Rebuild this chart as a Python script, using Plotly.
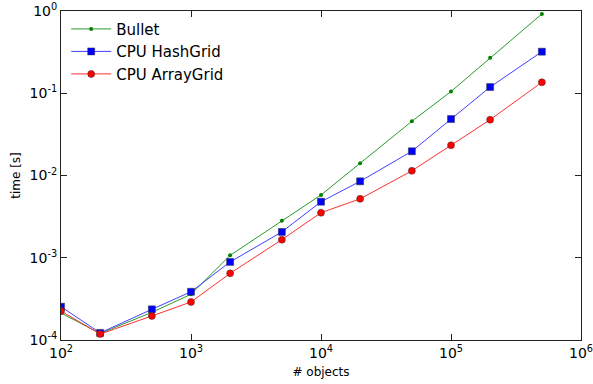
import plotly.graph_objects as go

n_objects = [100, 200, 500, 1000, 2000, 5000, 10000, 20000, 50000, 100000, 200000, 500000]
bullet = [2.13e-4, 1.20e-4, 2.17e-4, 3.59e-4, 1.07e-3, 2.82e-3, 5.8e-3, 1.41e-2, 4.56e-2, 0.105, 0.27, 0.92]
hashgrid = [2.54e-4, 1.22e-4, 2.36e-4, 3.86e-4, 8.9e-4, 2.06e-3, 4.8e-3, 8.5e-3, 1.97e-2, 4.86e-2, 0.119, 0.32]
arraygrid = [2.25e-4, 1.18e-4, 1.96e-4, 2.9e-4, 6.46e-4, 1.66e-3, 3.53e-3, 5.2e-3, 1.14e-2, 2.33e-2, 4.77e-2, 0.136]

x_tickvals = [1e2, 1e3, 1e4, 1e5, 1e6]
x_ticktext = ["10<sup>2</sup>", "10<sup>3</sup>", "10<sup>4</sup>", "10<sup>5</sup>", "10<sup>6</sup>"]
y_tickvals = [1e-4, 1e-3, 1e-2, 1e-1, 1e0]
y_ticktext = ["10<sup>-4</sup>", "10<sup>-3</sup>", "10<sup>-2</sup>", "10<sup>-1</sup>", "10<sup>0</sup>"]

# minor tick positions (2..9 times each decade)
x_minor = [m * d for d in [1e2, 1e3, 1e4, 1e5] for m in range(2, 10)]
y_minor = [m * d for d in [1e-4, 1e-3, 1e-2, 1e-1] for m in range(2, 10)]

fig = go.Figure()
fig.add_trace(go.Scatter(x=n_objects, y=bullet, name="Bullet", mode="lines+markers",
                         line=dict(color="#2a9a2a", width=1),
                         marker=dict(symbol="circle", size=4, color="#008000")))
fig.add_trace(go.Scatter(x=n_objects, y=hashgrid, name="CPU HashGrid", mode="lines+markers",
                         line=dict(color="#4040ff", width=1),
                         marker=dict(symbol="square", size=7, color="#0000ff",
                                     line=dict(color="#333333", width=0.5))))
fig.add_trace(go.Scatter(x=n_objects, y=arraygrid, name="CPU ArrayGrid", mode="lines+markers",
                         line=dict(color="#ff3030", width=1),
                         marker=dict(symbol="circle", size=7, color="#ff0000",
                                     line=dict(color="#333333", width=0.5))))

axis_common = dict(
    type="log", showgrid=False, zeroline=False, showline=True, linecolor="#222222",
    linewidth=1, mirror="allticks", ticks="inside", ticklen=6, tickcolor="#222222",
    tickfont=dict(family="DejaVu Sans", size=14, color="black"),
    automargin=False, ticklabeloverflow="allow",
)
minor_common = dict(
    type="log", showgrid=False, zeroline=False, showline=False,
    mirror="allticks", ticks="inside", ticklen=3, tickcolor="#444444",
    showticklabels=False, automargin=False,
)

fig.update_layout(
    width=593, height=384,
    margin=dict(l=61, r=12, t=11, b=44),
    paper_bgcolor="white", plot_bgcolor="white",
    font=dict(family="DejaVu Sans", color="black"),
    xaxis=dict(axis_common, range=[2, 6], tickvals=x_tickvals, ticktext=x_ticktext,
               title=dict(text="# objects", font=dict(size=12), standoff=7)),
    yaxis=dict(axis_common, range=[-4, 0], tickvals=y_tickvals, ticktext=y_ticktext,
               title=dict(text="time [s]", font=dict(size=12), standoff=6)),
    xaxis2=dict(minor_common, range=[2, 6], tickvals=x_minor, overlaying="x",
                anchor="y", side="bottom"),
    yaxis2=dict(minor_common, range=[-4, 0], tickvals=y_minor, overlaying="y",
                anchor="x", side="left"),
    legend=dict(x=0.01, y=0.995, xanchor="left", yanchor="top", bgcolor="rgba(0,0,0,0)",
                font=dict(size=15), tracegroupgap=0, itemwidth=40),
    showlegend=True,
)

fig.write_html("out.html")
